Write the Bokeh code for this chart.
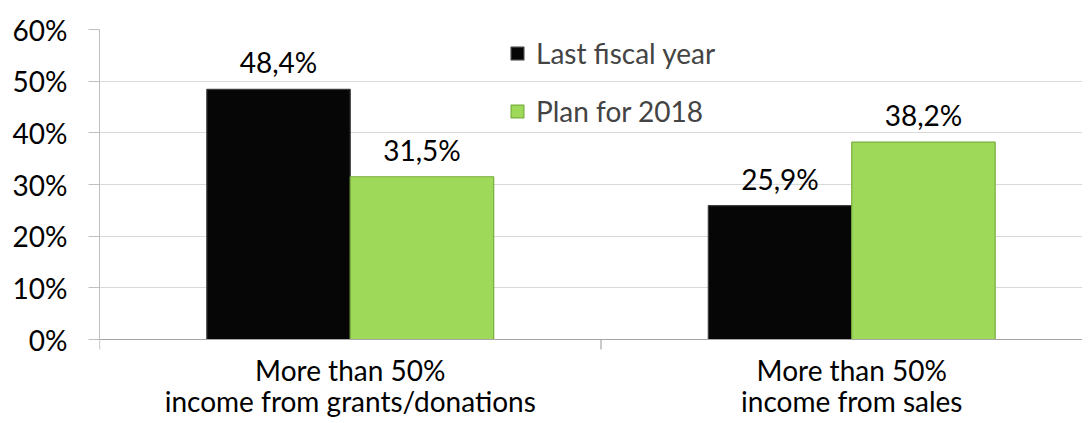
import math
from bokeh.plotting import figure
from bokeh.models import (Range1d, FixedTicker, Legend, LegendItem, ColumnDataSource, Span)
from bokeh.core.properties import value
from bokeh.embed import file_html
from bokeh.resources import INLINE

# ---- data ----
categories = ["More than 50%\nincome from grants/donations",
              "More than 50%\nincome from sales"]
series_names = ["Last fiscal year", "Plan for 2018"]
last_fiscal_year = [48.4, 25.9]
plan_for_2018 = [31.5, 38.2]
y_ticks = [0, 10, 20, 30, 40, 50, 60]
y_tick_labels = ["0%", "10%", "20%", "30%", "40%", "50%", "60%"]

FONT = "Lato"
FS = "28px"
COLORS = ["#060606", "#9ed95a"]
EDGES = ["#3c3c3c", "#78ad3a"]

LEFT, TOP = 99, 29
W, H = 1082, 421
FRAME_W = W - LEFT
FRAME_H = H - TOP
PLOT_H = 310          # pixel height of the 0..60 band
CAT_PX = 501.5
y_max = 60
y_min = -(FRAME_H - PLOT_H) / PLOT_H * y_max

p = figure(width=W, height=H, output_backend="svg", toolbar_location=None,
           x_range=Range1d(0, FRAME_W / CAT_PX), y_range=Range1d(y_min, y_max),
           min_border_left=LEFT, min_border_right=0, min_border_top=TOP,
           min_border_bottom=0)
p.outline_line_color = None
p.background_fill_color = "white"
p.border_fill_color = "white"
p.xgrid.grid_line_color = None
p.ygrid.grid_line_color = "#d9d9d9"
p.ygrid.grid_line_width = 1

# y axis
p.yaxis.ticker = FixedTicker(ticks=y_ticks, minor_ticks=[])
p.yaxis.bounds = (0, y_max)
p.yaxis.major_label_overrides = {t: l for t, l in zip(y_ticks, y_tick_labels)}
p.yaxis.axis_line_color = "#bfbfbf"
p.yaxis.major_tick_line_color = "#bfbfbf"
p.yaxis.major_tick_out = 11
p.yaxis.major_tick_in = 0
p.yaxis.minor_tick_line_color = None
p.yaxis.major_label_standoff = 21
p.yaxis.major_label_text_font = FONT
p.yaxis.major_label_text_font_size = FS
p.yaxis.major_label_text_color = "#000000"

# x axis drawn at y = 0 inside the frame
p.xaxis.visible = False
n = len(categories)
centres = [i + 0.5 for i in range(n)]
boundaries = list(range(n + 1))
p.add_layout(Span(location=0, dimension="width", line_color="#a6a6a6", line_width=1.2))
p.ray(x=boundaries, y=[0] * len(boundaries), length=10, length_units="screen",
      angle=-math.pi / 2, line_color="#a6a6a6", line_width=1.2)

line1 = [c.split("\n")[0] for c in categories]
line2 = [c.split("\n")[1] for c in categories]
for lines, off in ((line1, 30), (line2, 61)):
    p.text(x=centres, y=[0] * n, text=lines, text_align="center", text_baseline="middle",
           y_offset=off, text_font=value(FONT), text_font_size=FS, text_color="#000000")

bar_w = 0.286
offsets = [-bar_w / 2, bar_w / 2]
renderers = []
for k, vals in enumerate([last_fiscal_year, plan_for_2018]):
    xs = [c + offsets[k] for c in centres]
    src = ColumnDataSource(dict(x=xs, top=vals,
                                lab=[("%.1f%%" % v).replace(".", ",") for v in vals]))
    r = p.vbar(x="x", top="top", width=bar_w, bottom=0, source=src,
               fill_color=COLORS[k], line_color=EDGES[k], line_width=1.2)
    renderers.append(r)
    p.text(x="x", y="top", text="lab", source=src, text_align="center",
           text_baseline="middle", y_offset=-27, text_font=value(FONT),
           text_font_size=FS, text_color="#000000")

legend = Legend(items=[LegendItem(label=s, renderers=[r]) for s, r in zip(series_names, renderers)],
                location=(410, FRAME_H - 112 + TOP - 16), orientation="vertical",
                glyph_width=16, glyph_height=16, label_standoff=11, spacing=24,
                padding=0, margin=0, border_line_color=None, background_fill_alpha=0,
                label_text_font=FONT, label_text_font_size=FS, label_height=30)
p.add_layout(legend)

open("out.html", "w").write(file_html(p, INLINE))
